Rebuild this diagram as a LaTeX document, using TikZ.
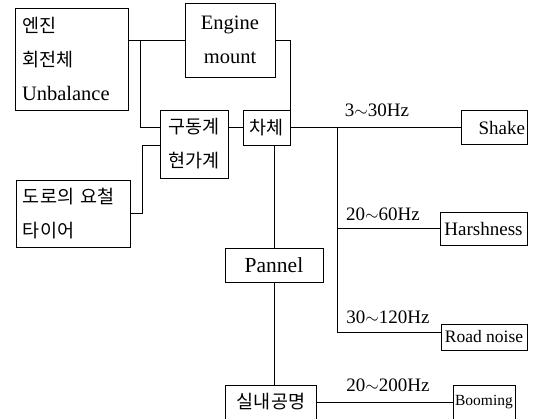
\documentclass[tikz,border=0pt]{standalone}
\usepackage{fontspec}
\setmainfont{Liberation Serif}
\newfontfamily\krfont{Noto Sans CJK KR}
\usepackage{tikz}
\usetikzlibrary{positioning}
\newcommand{\krtext}[1]{{\krfont\fontsize{18.5}{34}\selectfont #1}}
\tikzstyle{blk} = [draw, line width=1pt, inner sep=0pt, font=\fontsize{20.5}{34}\selectfont]
\tikzstyle{conn} = [line width=0.8pt]
\tikzstyle{freq} = [font=\fontsize{19}{22}\selectfont, inner sep=1pt]

\begin{document}
\begin{tikzpicture}[x=1pt, y=-1pt]
    \useasboundingbox (0,0) rectangle (538,418);
    % sources
    \node[blk, minimum width=113pt, minimum height=102pt, text width=99pt, align=left] (src) at (71.5,59) {\krtext{엔진}\\\krtext{회전체}\\Unbalance};
    \node[blk, minimum width=90pt, minimum height=74pt, align=center] (mount) at (230,40) {Engine\\mount};
    \node[blk, minimum width=68pt, minimum height=68pt, align=center] (drive) at (194,144) {\krtext{구동계}\\\krtext{현가계}};
    \node[blk, minimum width=114pt, minimum height=67pt, text width=100pt, align=left] (road) at (73,213.5) {\krtext{도로의 요철}\\\krtext{타이어}};
    \node[blk, minimum width=47pt, minimum height=35pt] (body) at (266.5,127.5) {\krtext{차체}};
    \node[blk, minimum width=98pt, minimum height=34pt, font=\fontsize{21.5}{24}\selectfont] (pannel) at (274,265) {Pannel};
    \node[blk, minimum width=91pt, minimum height=34pt] (cabin) at (271,402) {\krtext{실내공명}};
    % responses
    \node[blk, minimum width=66pt, minimum height=34pt, text width=62pt, align=right, font=\fontsize{19}{22}\selectfont] (shake) at (494,127.5) {Shake};
    \node[blk, minimum width=87pt, minimum height=33pt, font=\fontsize{19}{22}\selectfont] (harsh) at (483.5,228.5) {Harshness};
    \node[blk, minimum width=86pt, minimum height=26pt, font=\fontsize{17.5}{20}\selectfont] (roadn) at (484,337) {Road noise};
    \node[blk, minimum width=62pt, minimum height=34pt, font=\fontsize{15.5}{20}\selectfont] (boom) at (484,402) {Booming};
    % frequency bands
    \node[freq] (f1) at (377,110) {3$\sim$30Hz};
    \node[freq] (f2) at (383,214) {20$\sim$60Hz};
    \node[freq] (f3) at (388,317) {30$\sim$120Hz};
    \node[freq] (f4) at (388,385) {20$\sim$200Hz};
    % paths
    \coordinate (split) at (140,40);
    \coordinate (tap) at (142,145);
    \coordinate (fork) at (337,127.5);
    \draw[conn] (src.east |- split) -- (mount.west |- split);
    \draw[conn] (split) |- (drive.west |- body.west);
    \draw[conn] (drive.east |- body.west) -- (body.west);
    \draw[conn] (road.east) -| (tap) -- (drive.west |- tap);
    \draw[conn] (mount.east) -| (body.north east);
    \draw[conn] (body.south -| pannel.north) -- (pannel.north);
    \draw[conn] (pannel.south) -- (pannel.south |- cabin.north);
    \draw[conn] (cabin.east) -- (boom.west);
    \draw[conn] (body.east) -- (shake.west);
    \draw[conn] (fork) |- (harsh.west);
    \draw[conn] (fork) |- ([yshift=5pt]roadn.west);
\end{tikzpicture}
\end{document}
